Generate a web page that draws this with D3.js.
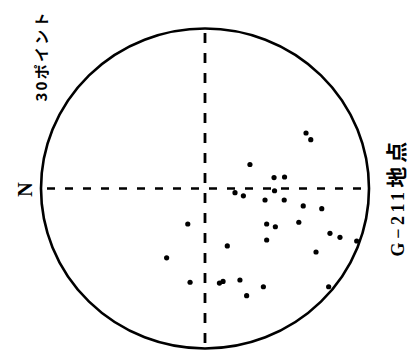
<!DOCTYPE html>
<html>
<head>
<meta charset="utf-8">
<script src="https://cdn.jsdelivr.net/npm/d3@7"></script>
<style>
  html, body { margin: 0; padding: 0; background: #fff; }
  svg { display: block; }
</style>
</head>
<body>
<svg id="chart" width="413" height="359"></svg>
<script>
// Pole positions on the projection net, in unit-circle coordinates
// (x to the right, y upward; N is at the left end of the horizontal axis).
const poleX = [0.616, 0.645, 0.274, 0.421, 0.485, 0.183, 0.234, 0.424, 0.366, 0.483,
               0.599, 0.712, -0.105, 0.376, 0.429, 0.572, 0.762, 0.823, 0.925, 0.136,
               0.376, 0.677, -0.234, -0.091, 0.088, 0.110, 0.213, 0.356, 0.254, 0.754];
const poleY = [0.347, 0.305, 0.150, 0.068, 0.072, -0.026, -0.046, -0.014, -0.072, -0.072,
               -0.109, -0.126, -0.222, -0.222, -0.239, -0.211, -0.280, -0.305, -0.328, -0.359,
               -0.322, -0.397, -0.433, -0.586, -0.591, -0.581, -0.572, -0.614, -0.670, -0.614];

const countLabel = "30ポイント";
const northLabel = "N";
const siteCode = "G\u2212211";
const siteWord = "地点";

const svg = d3.select("#chart");

const cx = 205, cy = 188.5, rx = 164, ry = 160;
const x = d3.scaleLinear().domain([-1, 1]).range([cx - rx, cx + rx]);
const y = d3.scaleLinear().domain([-1, 1]).range([cy + ry, cy - ry]);

// primitive circle
svg.append("ellipse")
  .attr("cx", x(0)).attr("cy", y(0))
  .attr("rx", x(1) - x(0)).attr("ry", y(-1) - y(0))
  .attr("fill", "none").attr("stroke", "#000").attr("stroke-width", 2.6);

// dashed reference axes
svg.append("line")
  .attr("x1", x(-1)).attr("x2", x(1)).attr("y1", y(0)).attr("y2", y(0))
  .attr("stroke", "#000").attr("stroke-width", 2.3)
  .attr("stroke-dasharray", "8,10").attr("stroke-dashoffset", 12);
svg.append("line")
  .attr("x1", x(0)).attr("x2", x(0)).attr("y1", y(1)).attr("y2", y(-1))
  .attr("stroke", "#000").attr("stroke-width", 2.8)
  .attr("stroke-dasharray", "10,10").attr("stroke-dashoffset", 15.5);

// poles
svg.append("g").selectAll("circle")
  .data(d3.range(poleX.length))
  .join("circle")
  .attr("cx", i => x(poleX[i]))
  .attr("cy", i => y(poleY[i]))
  .attr("r", 2.6)
  .attr("fill", "#000");

// rotated labels (read bottom to top)
function vtext(bx, my) {
  return svg.append("text")
    .attr("transform", `translate(${bx},${my}) rotate(-90)`)
    .attr("text-anchor", "middle")
    .attr("font-weight", "bold")
    .attr("fill", "#000");
}

vtext(47, 57)
  .attr("font-family", "'Noto Sans CJK JP', sans-serif")
  .attr("font-size", 15)
  .attr("textLength", 89).attr("lengthAdjust", "spacing")
  .text(countLabel);

vtext(32, 189.5)
  .attr("font-family", "'Liberation Serif', serif")
  .attr("font-size", 20)
  .text(northLabel);

const site = vtext(404, 197);
site.append("tspan")
  .attr("font-family", "'Liberation Serif', serif")
  .attr("font-size", 18)
  .attr("letter-spacing", 3.5)
  .text(siteCode);
site.append("tspan")
  .attr("font-family", "'Noto Sans CJK JP', sans-serif")
  .attr("font-size", 21)
  .attr("letter-spacing", 4)
  .attr("dx", 1)
  .text(siteWord);
</script>
</body>
</html>
